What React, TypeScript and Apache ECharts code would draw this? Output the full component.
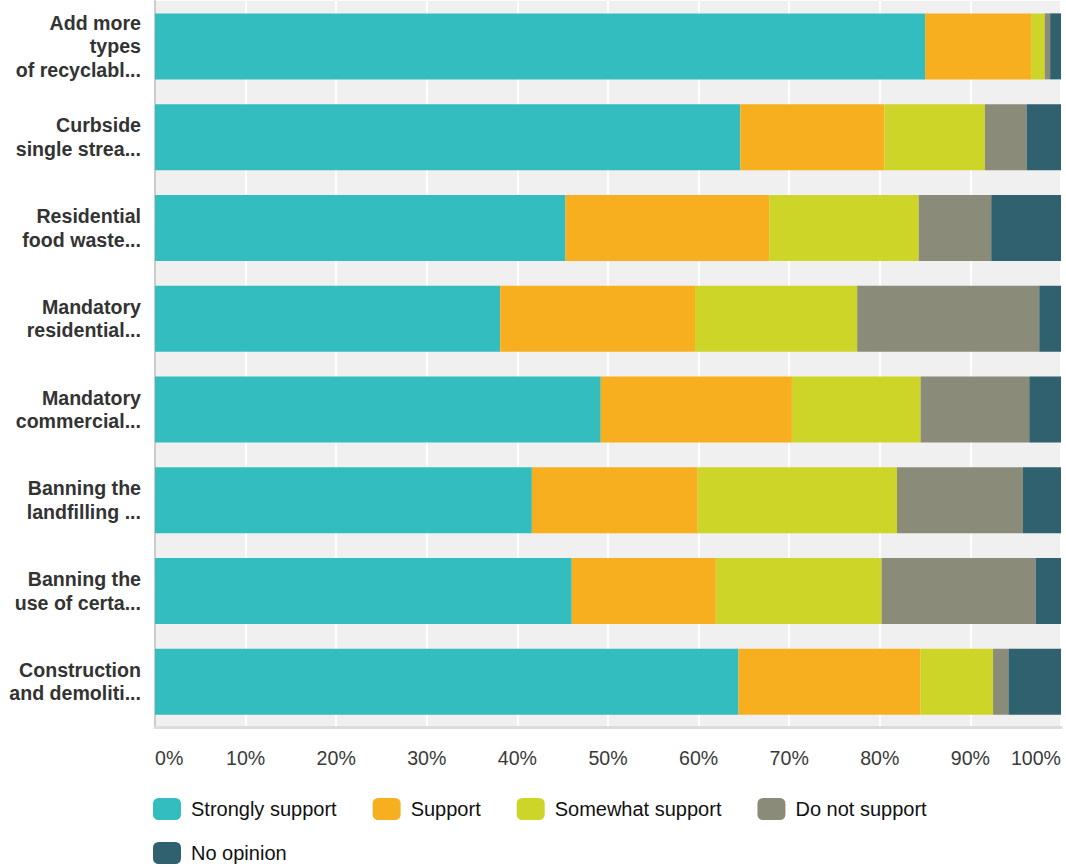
import React, { useEffect, useRef } from "react";
import * as echarts from "echarts";

const categories = [
  "Add more\ntypes\nof recyclabl...",
  "Curbside\nsingle strea...",
  "Residential\nfood waste...",
  "Mandatory\nresidential...",
  "Mandatory\ncommercial...",
  "Banning the\nlandfilling ...",
  "Banning the\nuse of certa...",
  "Construction\nand demoliti...",
];

const seriesNames = ["Strongly support", "Support", "Somewhat support", "Do not support", "No opinion"];
const stronglySupport = [85.0, 64.6, 45.3, 38.1, 49.2, 41.6, 46.0, 64.4];
const support = [11.7, 15.9, 22.5, 21.5, 21.1, 18.3, 15.9, 20.1];
const somewhatSupport = [1.5, 11.1, 16.5, 17.9, 14.2, 22.0, 18.3, 8.0];
const doNotSupport = [0.6, 4.6, 8.0, 20.1, 12.0, 13.9, 17.0, 1.7];
const noOpinion = [1.2, 3.8, 7.7, 2.4, 3.5, 4.2, 2.8, 5.8];
const colors = ["#34bdbf", "#f7af1f", "#cdd529", "#8b8b7a", "#2f616e"];

const FONT = "'Liberation Sans', Arial, Helvetica, sans-serif";

export default function App() {
  const ref = useRef<HTMLDivElement>(null);
  useEffect(() => {
    if (!ref.current) return;
    const chart = echarts.init(ref.current, undefined, { renderer: "svg" });
    const values = [stronglySupport, support, somewhatSupport, doNotSupport, noOpinion];
    const legendCommon = {
      orient: "horizontal" as const,
      icon: "roundRect",
      itemWidth: 28,
      itemHeight: 22,
      itemGap: 36,
      padding: 0,
      selectedMode: false,
      textStyle: { fontFamily: FONT, fontSize: 20, color: "#111", padding: [0, 0, 0, 5] },
    };
    chart.setOption({
      animation: false,
      textStyle: { fontFamily: FONT },
      grid: {
        left: 155,
        right: 5,
        top: 1,
        bottom: 140,
        show: true,
        backgroundColor: "#f0f0f0",
        borderWidth: 0,
        containLabel: false,
      },
      legend: [
        { ...legendCommon, left: 153, top: 798, data: seriesNames.slice(0, 4) },
        { ...legendCommon, left: 153, top: 842, data: seriesNames.slice(4) },
      ],
      xAxis: {
        type: "value",
        min: 0,
        max: 100,
        interval: 10,
        axisLine: { show: true, lineStyle: { color: "#dcdcdc", width: 3 } },
        axisTick: { show: false },
        splitLine: { show: true, lineStyle: { color: "#ffffff", width: 2 } },
        axisLabel: {
          formatter: "{value}%",
          fontFamily: FONT,
          fontSize: 19.6,
          color: "#3a3a3a",
          margin: 21,
          alignMinLabel: "left",
          alignMaxLabel: "right",
        },
      },
      yAxis: {
        type: "category",
        inverse: true,
        data: categories,
        axisLine: { show: true, lineStyle: { color: "#cccccc", width: 2 } },
        axisTick: { show: false },
        splitLine: { show: false },
        axisLabel: {
          fontFamily: FONT,
          fontSize: 19.6,
          fontWeight: "bold",
          color: "#333",
          lineHeight: 23.5,
          margin: 14,
          align: "right",
        },
      },
      series: seriesNames.map((name, i) => ({
        name,
        type: "bar",
        stack: "total",
        barWidth: 66,
        itemStyle: { color: colors[i] },
        emphasis: { disabled: true },
        data: values[i],
      })),
    });
    return () => chart.dispose();
  }, []);
  return (
    <div
      ref={ref}
      style={{ position: "fixed", left: 0, top: 0, width: 1066, height: 867, background: "#fff" }}
    />
  );
}
